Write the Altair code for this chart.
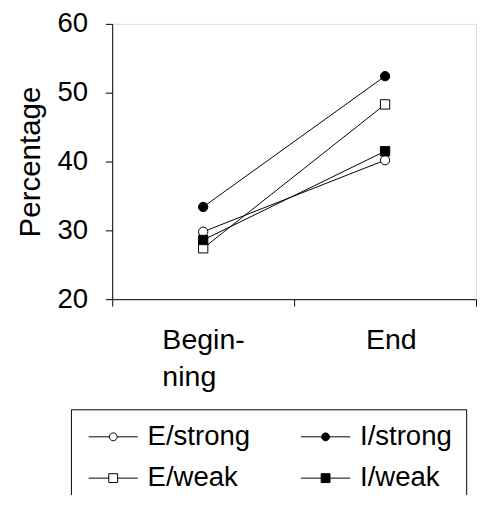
import json
import altair as alt
import pandas as pd

# ---- data ----
series = ["E/strong", "I/strong", "E/weak", "I/weak"]
phases = ["Beginning", "End"]
phase_pos = [1, 3]
beginning = [29.8, 33.4, 27.4, 28.6]
end = [40.2, 52.4, 48.3, 41.5]
tick_labels = [["Begin-", "ning"], ["End"]]

marker_shapes = ["circle", "circle", "square", "square"]
marker_fills = ["white", "black", "white", "black"]
# legend glyph: short line with the marker in its middle
legend_paths = [
    "M-1,0H1.1M1.9,0H4M1.9,0A0.4,0.4,0,1,1,1.1,0A0.4,0.4,0,1,1,1.9,0Z",
    "M-1,0H1.1M1.9,0H4M1.9,0A0.4,0.4,0,1,1,1.1,0A0.4,0.4,0,1,1,1.9,0Z",
    "M-1,0H1.05M1.95,0H4M1.05,-0.45H1.95V0.45H1.05Z",
    "M-1,0H1.05M1.95,0H4M1.05,-0.45H1.95V0.45H1.05Z",
]

rows = []
for i, s in enumerate(series):
    rows.append({"series": s, "phase": phases[0], "pos": phase_pos[0], "value": beginning[i]})
    rows.append({"series": s, "phase": phases[1], "pos": phase_pos[1], "value": end[i]})
df = pd.DataFrame(rows)

FONT = "Liberation Sans"

label_expr = (
    f"datum.value == {phase_pos[0]} ? {json.dumps(tick_labels[0])} : "
    f"datum.value == {phase_pos[1]} ? {json.dumps(tick_labels[1])} : ''"
)

x_enc = alt.X(
    "pos:Q",
    scale=alt.Scale(domain=[0, 4], nice=False, zero=False),
    axis=alt.Axis(
        values=[0, 1, 2, 3, 4],
        labelExpr=label_expr,
        title=None,
        grid=False,
        tickSize=7,
        tickColor="black",
        tickOpacity={"condition": {"test": "datum.value % 2 == 1", "value": 0}, "value": 1},
        labelAlign="left",
        labelBaseline="top",
        labelOffset={"condition": {"test": f"datum.value == {phase_pos[0]}", "value": -42}, "value": -20},
        labelPadding=20,
        labelLineHeight=38,
        labelFontSize=29,
        labelFont=FONT,
        labelColor="black",
        labelOverlap=False,
        labelFlush=False,
        labelBound=False,
        domainColor="black",
    ),
)
y_enc = alt.Y(
    "value:Q",
    scale=alt.Scale(domain=[20, 60], nice=False, zero=False),
    axis=alt.Axis(
        values=[20, 30, 40, 50, 60],
        title="Percentage",
        titleFont=FONT,
        titleFontSize=30,
        titleFontWeight="normal",
        titleColor="black",
        titlePadding=12,
        grid=False,
        tickSize=7,
        tickColor="black",
        labelPadding=18,
        labelFontSize=28,
        labelFont=FONT,
        labelColor="black",
        labelFlush=False,
        domainColor="black",
    ),
)

lines = alt.Chart(df).mark_line(color="black", strokeWidth=1).encode(
    x=x_enc, y=y_enc, detail="series:N"
)

points = alt.Chart(df).mark_point(filled=True, stroke="black", strokeWidth=1, size=90, opacity=1).encode(
    x=x_enc,
    y=y_enc,
    shape=alt.Shape("series:N", scale=alt.Scale(domain=series, range=marker_shapes), legend=None),
    fill=alt.Fill("series:N", scale=alt.Scale(domain=series, range=marker_fills), legend=None),
)

nbsp = "\u00a0" * 8
legend_layer = alt.Chart(df).transform_filter("false").mark_point(
    filled=True, stroke="black", strokeWidth=1, size=400, opacity=1
).encode(
    x=x_enc,
    y=y_enc,
    shape=alt.Shape(
        "series:N",
        scale=alt.Scale(domain=series, range=legend_paths),
        legend=alt.Legend(
            title=None,
            orient="none",
            legendX=-42,
            legendY=392,
            columns=2,
            direction="horizontal",
            columnPadding=47,
            rowPadding=14,
            symbolSize=400,
            labelOffset=36,
            labelFont=FONT,
            labelFontSize=28,
            labelColor="black",
            labelExpr=f"datum.index % 2 == 1 ? datum.label + '{nbsp}' : datum.label",
            strokeColor="black",
            fillColor="white",
            padding=14,
            symbolStrokeWidth=1,
        ),
    ),
    fill=alt.Fill(
        "series:N",
        scale=alt.Scale(domain=series, range=marker_fills),
        legend=alt.Legend(title=None),
    ),
)

chart = (
    alt.layer(lines, points, legend_layer)
    .resolve_scale(shape="independent", fill="independent")
    .properties(
        width=370,
        height=280,
        autosize=alt.AutoSizeParams(type="none"),
        padding={"left": 106, "top": 12, "right": 1, "bottom": 195},
    )
    .configure_view(stroke="black", strokeWidth=1)
    .configure(background="white")
)

chart.save("out.html", embed_options={"renderer": "svg", "actions": False})
